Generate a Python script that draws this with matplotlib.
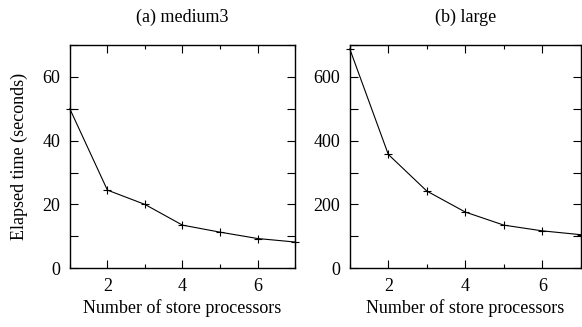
import numpy as np
import matplotlib.pyplot as plt
from matplotlib.ticker import MultipleLocator

plt.rcParams['font.family'] = ['Liberation Serif', 'DejaVu Serif']
plt.rcParams['font.size'] = 13

procs = [1, 2, 3, 4, 5, 6, 7]
medium3_time = [50, 24.5, 20, 13.5, 11.3, 9.3, 8.2]
large_time = [688, 357, 242, 176, 135, 117, 105]

panels = [
    ('(a) medium3', medium3_time, 70, 20, 10, [0.120, 0.180, 0.387, 0.682]),
    ('(b) large', large_time, 700, 200, 100, [0.601, 0.180, 0.397, 0.682]),
]

fig = plt.figure(figsize=(5.82, 3.27), dpi=100)

for i, (title, vals, ymax, major, minor, rect) in enumerate(panels):
    ax = fig.add_axes(rect)
    ax.plot(procs, vals, color='black', lw=0.8, marker='+', ms=6, mew=0.8, clip_on=False)
    ax.set_xlim(1, 7)
    ax.set_ylim(0, ymax)
    ax.xaxis.set_major_locator(MultipleLocator(2))
    ax.xaxis.set_minor_locator(MultipleLocator(1))
    ax.yaxis.set_major_locator(MultipleLocator(major))
    ax.yaxis.set_minor_locator(MultipleLocator(minor))
    ax.tick_params(which='both', direction='in', top=True, right=True, width=0.8)
    ax.tick_params(axis='both', which='major', length=6, labelsize=13, pad=7)
    ax.tick_params(axis='x', which='minor', length=3)
    ax.tick_params(axis='y', which='minor', length=6)
    for s in ax.spines.values():
        s.set_linewidth(1.0)
    ax.set_xlabel('Number of store processors', fontsize=13, labelpad=3)
    ax.set_title(title, fontsize=13, pad=17)
    if i == 0:
        ax.set_ylabel('Elapsed time (seconds)', fontsize=13, labelpad=10)

fig.savefig('out.png', dpi=100)
